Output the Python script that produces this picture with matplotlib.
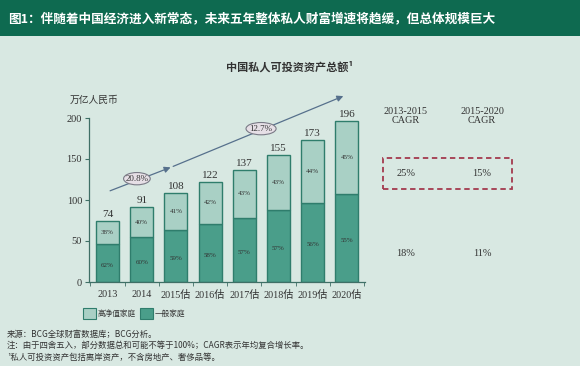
import matplotlib
matplotlib.use("Agg")
import matplotlib.pyplot as plt
from matplotlib.patches import Rectangle, Ellipse

years = ["2013", "2014", "2015估", "2016估", "2017估", "2018估", "2019估", "2020估"]
totals = [74, 91, 108, 122, 137, 155, 173, 196]
general_pct = [62, 60, 59, 58, 57, 57, 56, 55]
hnw_pct = [38, 40, 41, 42, 43, 43, 44, 45]
yticks = [0, 50, 100, 150, 200]
cagr_periods = ["2013-2015\nCAGR", "2015-2020\nCAGR"]
cagr_hnw = ["25%", "15%"]
cagr_general = ["18%", "11%"]
growth_labels = ["20.8%", "12.7%"]

W, H = 580, 366
BG = "#d8e8e2"
GREEN = "#0e6a50"
DARK = "#4a9e8a"
LIGHT = "#a9d0c5"
EDGE = "#2f7d6c"
TXT = "#333333"
SERIF = ["Liberation Serif", "Noto Sans CJK SC"]
CJK = ["Noto Sans CJK SC", "DejaVu Sans"]

fig = plt.figure(figsize=(W / 100, H / 100), dpi=100, facecolor=BG)

def px(x, y):
    return x / W, 1 - y / H

# header band
fig.patches.append(Rectangle((0, 1 - 36 / H), 1, 36 / H, transform=fig.transFigure,
                             facecolor=GREEN, edgecolor="none", zorder=0))
fig.text(*px(8, 19), "图1：伴随着中国经济进入新常态，未来五年整体私人财富增速将趋缓，但总体规模巨大",
         color="white", fontsize=9.1, fontweight="bold", family=CJK, va="center", ha="left")

# main axes
x0, x1 = 89, 365
ytop, ybot = 118, 282
ax = fig.add_axes([x0 / W, 1 - ybot / H, (x1 - x0) / W, (ybot - ytop) / H])
ax.set_facecolor("none")
n = len(years)
spacing = 34.2
ax.set_xlim((x0 - 107.5) / spacing, (x1 - 107.5) / spacing)
ax.set_ylim(0, 200)

gen_vals = [t * p / 100 for t, p in zip(totals, general_pct)]
hnw_vals = [t - g for t, g in zip(totals, gen_vals)]
xs = list(range(n))
bw = 0.67
ax.bar(xs, gen_vals, width=bw, color=DARK, edgecolor=EDGE, linewidth=1.0, zorder=2)
ax.bar(xs, hnw_vals, bottom=gen_vals, width=bw, color=LIGHT, edgecolor=EDGE, linewidth=1.0, zorder=2)

for x, t, g, h, gp, hp in zip(xs, totals, gen_vals, hnw_vals, general_pct, hnw_pct):
    ax.text(x, t + 2.5, str(t), ha="center", va="bottom", fontsize=8, family=SERIF, color=TXT)
    ax.text(x, g / 2 - 3, f"{gp}%", ha="center", va="center", fontsize=5, family=SERIF, color=TXT)
    ax.text(x, g + h / 2, f"{hp}%", ha="center", va="center", fontsize=5, family=SERIF, color=TXT)

for s in ["top", "right"]:
    ax.spines[s].set_visible(False)
for s in ["left", "bottom"]:
    ax.spines[s].set_color("#3f6f66")
    ax.spines[s].set_linewidth(0.9)
ax.set_yticks(yticks)
ax.set_yticklabels([str(v) for v in yticks], family=SERIF, fontsize=7.5, color=TXT)
ax.tick_params(axis="y", length=3, color="#3f6f66", pad=2)
ax.set_xticks(xs)
ax.set_xticklabels(years, family=SERIF, fontsize=7.3, color=TXT)
ax.tick_params(axis="x", length=0, pad=6)
ax.set_xticks([i + 0.5 for i in range(-1, n)], minor=True)
ax.tick_params(axis="x", which="minor", length=3, color="#3f6f66")

# growth arrow
arrow_col = "#56708c"
ax.annotate("", xy=(1.92, 141), xytext=(0.0, 110),
            arrowprops=dict(arrowstyle="-|>", color=arrow_col, lw=0.9, mutation_scale=9),
            annotation_clip=False, zorder=3)
ax.annotate("", xy=(6.97, 228), xytext=(1.92, 141),
            arrowprops=dict(arrowstyle="-|>", color=arrow_col, lw=0.9, mutation_scale=9, shrinkA=0),
            annotation_clip=False, zorder=3)
for (cx, cy, w), lab in zip([(0.86, 126, 0.78), (4.49, 187, 0.88)], growth_labels):
    e = Ellipse((cx, cy), w, 15, facecolor="#e6dfe6", edgecolor="#7a7a86", lw=0.8,
                zorder=4, clip_on=False)
    ax.add_patch(e)
    ax.text(cx, cy, lab, ha="center", va="center", fontsize=6.5, family=SERIF, color=TXT, zorder=5)

# titles
fig.text(*px(290, 67), "中国私人可投资资产总额¹", ha="center", va="center", fontsize=8,
         fontweight="bold", family=CJK, color=TXT)
fig.text(*px(70, 100), "万亿人民币", ha="left", va="center", fontsize=7, family=CJK, color=TXT)

# CAGR table
for cx, lab, a, b in zip([406, 482], cagr_periods, cagr_hnw, cagr_general):
    fig.text(*px(cx, 116), lab, ha="center", va="center", fontsize=7.3, family=SERIF,
             color=TXT, linespacing=1.1)
    fig.text(*px(cx, 174), a, ha="center", va="center", fontsize=7.5, family=SERIF, color=TXT)
    fig.text(*px(cx, 254), b, ha="center", va="center", fontsize=7.5, family=SERIF, color=TXT)
fig.patches.append(Rectangle(px(383, 189), (512 - 383) / W, (189 - 158) / H,
                             transform=fig.transFigure, facecolor="none", edgecolor="#a33a4e",
                             lw=1.3, linestyle=(0, (3, 2)), zorder=3))

# legend
fig.patches.append(Rectangle(px(83, 319), 13 / W, 11 / H, transform=fig.transFigure,
                             facecolor=LIGHT, edgecolor=EDGE, lw=0.8))
fig.text(*px(98, 313.5), "高净值家庭", ha="left", va="center", fontsize=5.5, family=CJK, color=TXT)
fig.patches.append(Rectangle(px(140, 319), 13 / W, 11 / H, transform=fig.transFigure,
                             facecolor=DARK, edgecolor=EDGE, lw=0.8))
fig.text(*px(155, 313.5), "一般家庭", ha="left", va="center", fontsize=5.5, family=CJK, color=TXT)

# footnotes
notes = ["来源：BCG全球财富数据库；BCG分析。",
         "注：由于四舍五入，部分数据总和可能不等于100%；CAGR表示年均复合增长率。",
         "¹私人可投资资产包括离岸资产，不含房地产、奢侈品等。"]
for i, t in enumerate(notes):
    fig.text(*px(7, 334 + 11.5 * i), t, ha="left", va="center", fontsize=6.0, family=CJK, color=TXT)

fig.savefig("out.png", dpi=100, facecolor=BG)
